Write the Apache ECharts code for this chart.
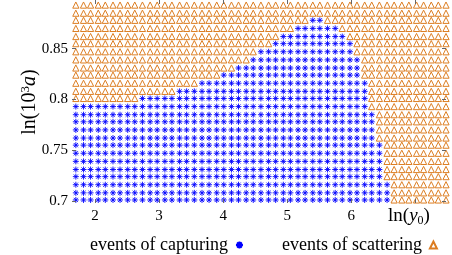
<!DOCTYPE html>
<html><head><meta charset="utf-8">
<script src="https://cdn.jsdelivr.net/npm/echarts@6/dist/echarts.min.js"></script>
<style>html,body{margin:0;padding:0;background:#fff}#c{width:452px;height:255px}</style>
</head><body><div id="c"></div>
<script>
// sampled grid: ln(y0) columns and ln(10^3 a) rows
const xValues = [1.70,1.82,1.93,2.05,2.16,2.28,2.39,2.51,2.62,2.74,2.86,2.97,3.09,3.20,3.32,3.43,3.55,3.67,3.78,3.90,4.01,4.13,4.24,4.36,4.47,4.59,4.71,4.82,4.94,5.05,5.17,5.28,5.40,5.51,5.63,5.75,5.86,5.98,6.09,6.21,6.32,6.44,6.56,6.67,6.79,6.90,7.02,7.13,7.25,7.36,7.48];
const yValues = [0.701,0.708,0.716,0.724,0.731,0.739,0.747,0.755,0.762,0.770,0.778,0.785,0.793,0.801,0.808,0.816,0.824,0.831,0.839,0.847,0.855,0.862,0.870,0.878,0.885,0.893];
// per row (bottom to top): first and last column index of capturing events
const captureFirstCol = [0,0,0,0,0,0,0,0,0,0,0,0,0,9,14,17,20,22,24,25,27,28,30,32,null,null];
const captureLastCol  = [42,42,42,41,41,41,41,41,40,40,40,40,39,39,39,39,38,38,38,37,37,36,35,33,null,null];
const xTickValues = [2,3,4,5,6,7];
const xLabelValues = [2,3,4,5,6];
const yTickValues = [0.7,0.75,0.8,0.85];
const seriesNames = ['events of capturing','events of scattering'];

const capturing = [], scattering = [];
yValues.forEach((y, r) => {
  xValues.forEach((x, c) => {
    const f = captureFirstCol[r], l = captureLastCol[r];
    if (f !== null && c >= f && c <= l) capturing.push([x, y]);
    else scattering.push([x, y]);
  });
});

const serif = 'Liberation Serif';
const blue = '#0000ff', orange = '#dc7d22', tickCol = '#666';
const asterisk = 'path://M5,0L5,10M0,5L10,5M1.5,1.5L8.5,8.5M1.5,8.5L8.5,1.5';

const chart = echarts.init(document.getElementById('c'), null, {renderer:'canvas'});
chart.setOption({
  animation: false,
  grid: {left: 72, right: 6, top: 0, bottom: 52},
  xAxis: [{
    type: 'value', min: 1.64, max: 7.48, z: 10,
    axisLine: {show: false}, splitLine: {show: false},
    axisTick: {show: true, inside: true, length: 4, customValues: xTickValues, lineStyle: {color: tickCol}},
    axisLabel: {customValues: xLabelValues, color: '#000', fontFamily: serif, fontSize: 15, margin: 6}
  }, {
    type: 'value', position: 'top', min: 1.64, max: 7.48, z: 10,
    axisLine: {show: false}, splitLine: {show: false},
    axisTick: {show: true, inside: true, length: 4, customValues: xTickValues, lineStyle: {color: tickCol}},
    axisLabel: {show: false}
  }],
  yAxis: [{
    type: 'value', min: 0.698, max: 0.898, z: 10,
    axisLine: {show: false}, splitLine: {show: false},
    axisTick: {show: true, inside: true, length: 4, customValues: yTickValues, lineStyle: {color: tickCol}},
    axisLabel: {customValues: yTickValues, color: '#000', fontFamily: serif, fontSize: 15, margin: 4}
  }, {
    type: 'value', position: 'right', min: 0.698, max: 0.898, z: 10,
    axisLine: {show: false}, splitLine: {show: false},
    axisTick: {show: true, inside: true, length: 4, customValues: yTickValues, lineStyle: {color: tickCol}},
    axisLabel: {show: false}
  }],
  legend: {
    left: 85, top: 231, align: 'right', itemGap: 38, itemWidth: 7, itemHeight: 7,
    textStyle: {fontFamily: serif, fontSize: 18, color: '#000', padding: [0, 3, 0, 0]},
    data: seriesNames
  },
  series: [{
    name: seriesNames[0], type: 'scatter', clip: false,
    symbol: asterisk, symbolSize: 6,
    itemStyle: {color: 'rgba(0,0,0,0)', borderColor: blue, borderWidth: 0.9, opacity: 1},
    data: capturing
  }, {
    name: seriesNames[1], type: 'scatter', clip: false,
    symbol: 'triangle', symbolSize: 6.2,
    itemStyle: {color: '#fff', borderColor: orange, borderWidth: 1, opacity: 1},
    data: scattering
  }],
  graphic: [{
    type: 'text', x: 30, y: 102, rotation: Math.PI / 2,
    style: {
      text: '{n|ln(10}{s|3}{i|a}{n|)}', align: 'center', verticalAlign: 'middle',
      rich: {
        n: {fontFamily: serif, fontSize: 20, fill: '#000', lineHeight: 22},
        s: {fontFamily: serif, fontSize: 13, fill: '#000', verticalAlign: 'top', lineHeight: 22},
        i: {fontFamily: serif, fontSize: 20, fontStyle: 'italic', fill: '#000', lineHeight: 22}
      }
    }
  }, {
    type: 'text', x: 409, y: 216,
    style: {
      text: '{n|ln(}{i|y}{b|0}{n|)}', align: 'center', verticalAlign: 'middle',
      rich: {
        n: {fontFamily: serif, fontSize: 19, fill: '#000', lineHeight: 22},
        i: {fontFamily: serif, fontSize: 19, fontStyle: 'italic', fill: '#000', lineHeight: 22},
        b: {fontFamily: serif, fontSize: 12, fill: '#000', verticalAlign: 'bottom', lineHeight: 22}
      }
    }
  }]
});
</script></body></html>
